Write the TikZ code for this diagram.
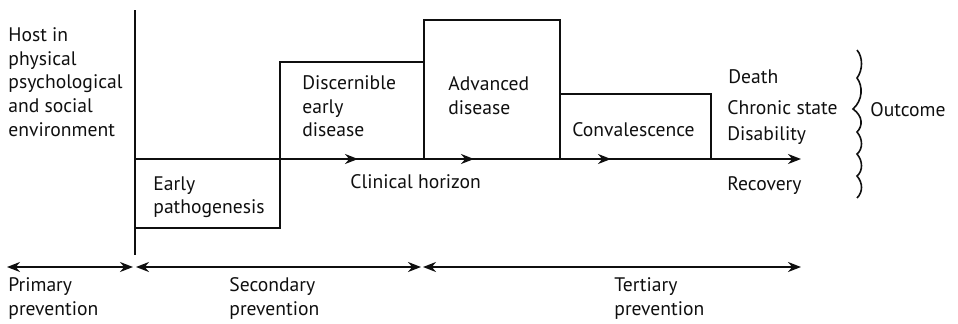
\documentclass[tikz,border=0pt]{standalone}
\usepackage{fontspec}
\setmainfont{PT Sans}
\usetikzlibrary{arrows.meta}
\definecolor{Tinta}{RGB}{15, 15, 15}
\tikzset{
  txt/.style={anchor=north west, inner sep=0pt, align=left, text=Tinta,
    font=\fontsize{9.8}{11.9}\selectfont},
  stage/.style={draw=Tinta, line width=0.85pt},
  flow/.style={draw=Tinta, line width=1pt, -{Stealth[length=6.5pt,width=5pt]}},
  span/.style={draw=Tinta, line width=1pt,
    {Stealth[length=6.5pt,width=5pt]}-{Stealth[length=6.5pt,width=5pt]}}
}

\begin{document}
\begin{tikzpicture}[x=0.5pt,y=-0.5pt]
            \useasboundingbox (0,0) rectangle (958,323);
            %Eje y etapas
            \coordinate (top) at (135,10);
            \coordinate (foot) at (135,255);
            \draw[draw=Tinta, line width=1.1pt] (top) -- (foot);
            \draw[stage] (135,159) rectangle (280,228);
            \draw[stage] (280,62) rectangle (424,159);
            \draw[stage] (424,20) rectangle (560,159);
            \draw[stage] (560,94) rectangle (711,159);
            \coordinate (h0) at (135,159);
            \coordinate (h1) at (358,159);
            \coordinate (h2) at (474,159);
            \coordinate (h3) at (611,159);
            \coordinate (h4) at (801,159);
            \draw[flow] (h0) -- (h1);
            \draw[flow] (h1) -- (h2);
            \draw[flow] (h2) -- (h3);
            \draw[flow] (h3) -- (h4);
            \node[txt] (host) at (8,27) {Host in\\physical\\psychological\\and social\\environment};
            \node[txt] (early) at (153,176) {Early\\pathogenesis};
            \node[txt] (discern) at (302,75) {Discernible\\early\\disease};
            \node[txt] (advanced) at (448,76) {Advanced\\disease};
            \node[txt] (conval) at (572,122) {Convalescence};
            \node[txt] (clinical) at (350,174) {Clinical horizon};
            \node[txt] (death) at (728,69) {Death};
            \node[txt] (chronic) at (727,100) {Chronic state};
            \node[txt] (disab) at (727,126) {Disability};
            \node[txt] (recov) at (727,176) {Recovery};
            \node[txt] (outcome) at (870,102) {Outcome};
            %Llave
            \draw[draw=Tinta, line width=0.8pt] (857,50)
              .. controls (863,57) and (863,70) .. (857,78)
              .. controls (863,86) and (863,100) .. (853,109)
              .. controls (863,116) and (863,126) .. (857,132)
              .. controls (863,139) and (863,149) .. (857,154)
              .. controls (863,161) and (863,171) .. (857,176)
              .. controls (863,183) and (863,192) .. (857,198);
            %Prevencion
            \coordinate (p0) at (7,267);
            \coordinate (p1) at (133,267);
            \coordinate (s0) at (136,267);
            \coordinate (s1) at (421,267);
            \coordinate (t0) at (423,267);
            \coordinate (t1) at (801,267);
            \draw[span] (p0) -- (p1);
            \draw[span] (s0) -- (s1);
            \draw[span] (t0) -- (t1);
            \node[txt] (primary) at (8,277) {Primary\\prevention};
            \node[txt] (secondary) at (229,277) {Secondary\\prevention};
            \node[txt] (tertiary) at (614,277) {Tertiary\\prevention};
        \end{tikzpicture}
\end{document}
